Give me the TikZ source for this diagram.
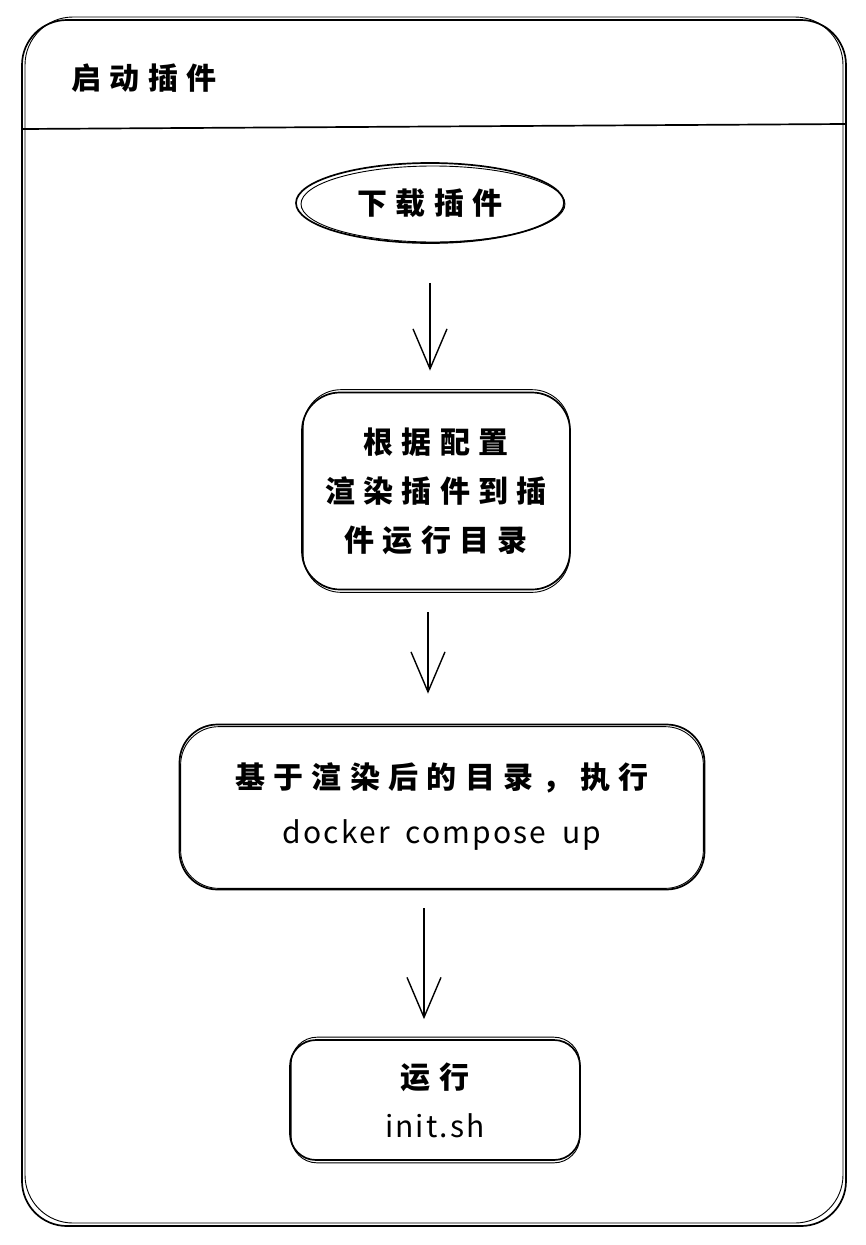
\documentclass[tikz,border=0pt]{standalone}
\usepackage{fontspec}
\usetikzlibrary{arrows.meta,shapes.geometric}
\newfontfamily\cjk[LetterSpace=28]{Noto Sans CJK SC}
\newfontfamily\lat[LetterSpace=7,WordSpace=1.8]{Noto Sans CJK SC}
\tikzset{
  x=1pt,y=-1pt,
  stroke/.style={line width=1.7pt,black},
  stroke2/.style={line width=0.9pt,black},
  box/.style={stroke,draw,rounded corners=38pt,align=center,inner sep=0pt,
    font=\cjk\bfseries\fontsize{30}{49}\selectfont},
  oval/.style={stroke,draw,ellipse,inner sep=0pt,font=\cjk\bfseries\fontsize{30}{40}\selectfont},
  arr/.style={line width=1.4pt,-{Straight Barb[length=40pt,width=34pt,line width=1.4pt]}},
}
\begin{document}
\begin{tikzpicture}
\useasboundingbox (0,0) rectangle (866,1245);
% frame
\draw[stroke,rounded corners=45pt] (22,20) rectangle (846,1226);
\draw[stroke2,rounded corners=48pt] (25,17) rectangle (843,1223);
\draw[stroke] (22,129) -- (846,124);
\node[anchor=west,font=\cjk\bfseries\fontsize{30}{32}\selectfont] (title) at (68,78) {启动插件};
% nodes
\node[oval,minimum width=268pt,minimum height=80pt] (n1) at (430,203) {下载插件};
\draw[stroke2] ([shift={(3,1)}]n1.center) ellipse [x radius=132pt,y radius=38pt];
\node[box,minimum width=268pt,minimum height=197pt] (n2) at (436,491) {根据配置\\渲染插件到插\\件运行目录};
\draw[stroke2,rounded corners=38pt] ([shift={(2,-2)}]n2.north west) rectangle ([shift={(-1,2)}]n2.south east);
\node[box,minimum width=525pt,minimum height=165pt,font=\cjk\bfseries\fontsize{30}{55}\selectfont] (n3) at (442,807) {基于渲染后的目录，执行\\{\lat\mdseries\fontsize{30}{55}\selectfont docker compose up}};
\draw[stroke2,rounded corners=38pt] ([shift={(2,3)}]n3.north west) rectangle ([shift={(-2,-2)}]n3.south east);
\node[box,rounded corners=26pt,minimum width=290pt,minimum height=120pt] (n4) at (435,1100) {运行\\{\lat\mdseries\fontsize{30}{49}\selectfont init.sh}};
\draw[stroke2,rounded corners=26pt] ([shift={(2,-2)}]n4.north west) rectangle ([shift={(-1,2)}]n4.south east);
% arrows
\draw[arr,shorten <=39pt,shorten >=21pt] (n1.south) -- (n1.south |- n2.north);
\draw[arr,shorten <=22pt,shorten >=30pt] ([xshift=-8pt]n2.south) -- ([xshift=-8pt]n2.south |- n3.north);
\draw[arr,shorten <=18pt,shorten >=20pt] ([xshift=-18pt]n3.south) -- ([xshift=-18pt]n3.south |- n4.north);
\end{tikzpicture}
\end{document}
